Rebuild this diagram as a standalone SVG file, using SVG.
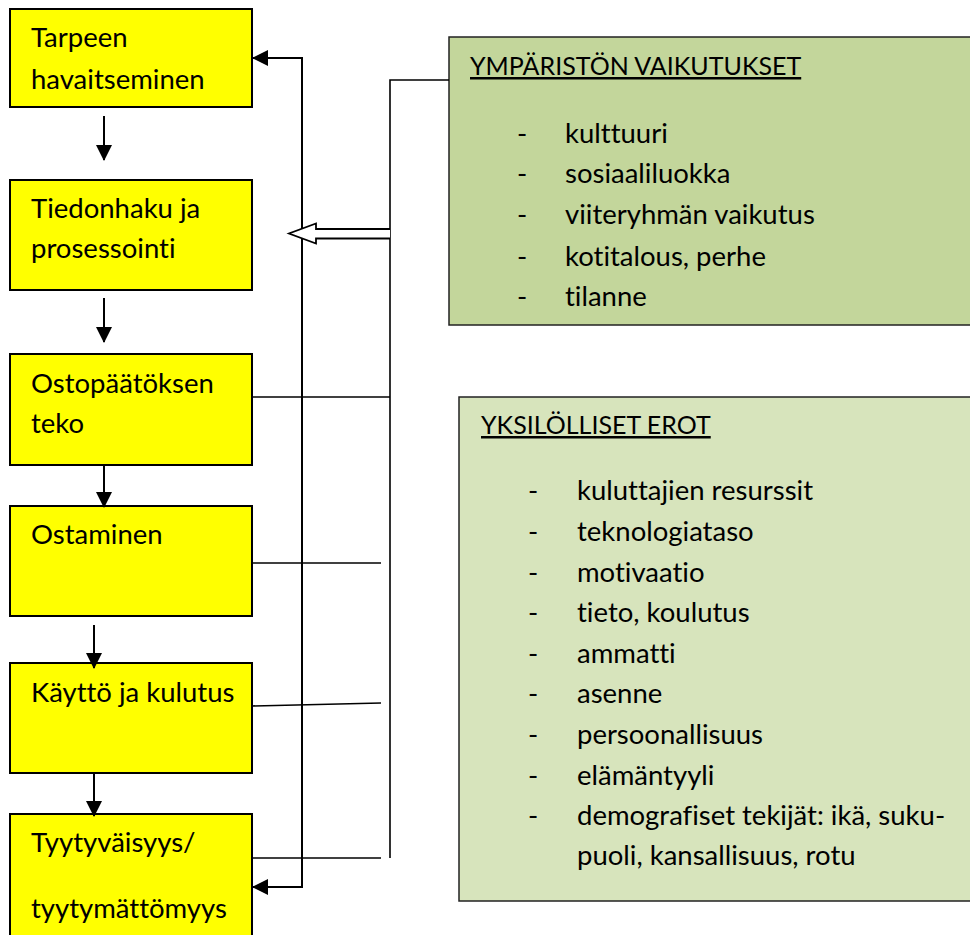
<svg xmlns="http://www.w3.org/2000/svg" width="970" height="935" viewBox="0 0 970 935">
  <style>
    .step { fill: #ffff00; stroke: #000; stroke-width: 2; }
    .envbox { fill: #c3d69b; stroke: #222; stroke-width: 1.5; }
    .indbox { fill: #d7e4bc; stroke: #222; stroke-width: 1.5; }
    text { font-family: Lato, "Open Sans", "Liberation Sans", sans-serif; font-size: 27.5px; fill: #000; font-variant-ligatures: none; }
    .title { text-decoration: underline; font-size: 25px; }
    .wire { fill: none; stroke: #000; stroke-width: 2; }
    .thin { fill: none; stroke: #000; stroke-width: 1.6; }
  </style>
  <defs>
    <marker id="head" markerUnits="userSpaceOnUse" markerWidth="16" markerHeight="16" viewBox="0 0 16 16" refX="15" refY="8" orient="auto">
      <path d="M0,0 L16,8 L0,16 Z" fill="#000"/>
    </marker>
  </defs>

  <!-- process steps -->
  <g id="step-need">
    <rect class="step" x="10" y="9" width="242" height="98"/>
    <text x="31" y="47">Tarpeen</text>
    <text x="31" y="89">havaitseminen</text>
  </g>
  <g id="step-search">
    <rect class="step" x="10" y="180" width="242" height="110"/>
    <text x="31" y="218">Tiedonhaku ja</text>
    <text x="31" y="258">prosessointi</text>
  </g>
  <g id="step-decision">
    <rect class="step" x="10" y="354" width="242" height="111"/>
    <text x="31" y="393">Ostopäätöksen</text>
    <text x="31" y="433">teko</text>
  </g>
  <g id="step-buying">
    <rect class="step" x="10" y="506" width="242" height="110"/>
    <text x="31" y="544">Ostaminen</text>
  </g>
  <g id="step-use">
    <rect class="step" x="10" y="663" width="242" height="110"/>
    <text x="31" y="702">Käyttö ja kulutus</text>
  </g>
  <g id="step-satisfaction">
    <rect class="step" x="10" y="814" width="242" height="130"/>
    <text x="31" y="852">Tyytyväisyys/</text>
    <text x="31" y="918">tyytymättömyys</text>
  </g>

  <!-- environmental influences -->
  <g id="environment">
    <rect class="envbox" x="449" y="37" width="530" height="288"/>
    <text class="title" x="470" y="75">YMPÄRISTÖN VAIKUTUKSET</text>
    <g>
      <text x="517" y="143">-</text><text x="565" y="143">kulttuuri</text>
      <text x="517" y="183">-</text><text x="565" y="183">sosiaaliluokka</text>
      <text x="517" y="224">-</text><text x="565" y="224">viiteryhmän vaikutus</text>
      <text x="517" y="266">-</text><text x="565" y="266">kotitalous, perhe</text>
      <text x="517" y="306">-</text><text x="565" y="306">tilanne</text>
    </g>
  </g>

  <!-- individual differences -->
  <g id="individual">
    <rect class="indbox" x="459" y="397" width="520" height="504"/>
    <text class="title" x="481" y="434">YKSILÖLLISET EROT</text>
    <g>
      <text x="528" y="500">-</text><text x="577" y="500">kuluttajien resurssit</text>
      <text x="528" y="541">-</text><text x="577" y="541">teknologiataso</text>
      <text x="528" y="582">-</text><text x="577" y="582">motivaatio</text>
      <text x="528" y="622">-</text><text x="577" y="622">tieto, koulutus</text>
      <text x="528" y="663">-</text><text x="577" y="663">ammatti</text>
      <text x="528" y="703">-</text><text x="577" y="703">asenne</text>
      <text x="528" y="744">-</text><text x="577" y="744">persoonallisuus</text>
      <text x="528" y="785">-</text><text x="577" y="785">elämäntyyli</text>
      <text x="528" y="825">-</text><text x="577" y="825">demografiset tekijät: ikä, suku-</text>
      <text x="577" y="865">puoli, kansallisuus, rotu</text>
    </g>
  </g>

  <!-- connectors -->
  <g id="connectors">
    <!-- step to step -->
    <line class="wire" x1="104" y1="116" x2="104" y2="160" marker-end="url(#head)"/>
    <line class="wire" x1="104" y1="298" x2="104" y2="342" marker-end="url(#head)"/>
    <line class="wire" x1="104" y1="465" x2="104" y2="507" marker-end="url(#head)"/>
    <line class="wire" x1="94" y1="625" x2="94" y2="668" marker-end="url(#head)"/>
    <line class="wire" x1="94" y1="773" x2="94" y2="816" marker-end="url(#head)"/>

    <!-- feedback loop -->
    <path class="wire" d="M302,470 V58 H253" marker-end="url(#head)"/>
    <path class="wire" d="M302,470 V887 H253" marker-end="url(#head)"/>

    <!-- influence bus -->
    <path class="thin" d="M449,80 H390 V858"/>
    <line class="thin" x1="252" y1="397" x2="390" y2="397"/>
    <line class="thin" x1="252" y1="563" x2="381" y2="563"/>
    <line class="thin" x1="252" y1="706" x2="381" y2="703"/>
    <line class="thin" x1="252" y1="858" x2="381" y2="858"/>

    <!-- hollow arrow -->
    <path d="M390,229 H316 V223.5 L289,233.5 L316,243.5 V238.5 H390" fill="#fff" stroke="#000" stroke-width="1.8"/>
  </g>
</svg>
